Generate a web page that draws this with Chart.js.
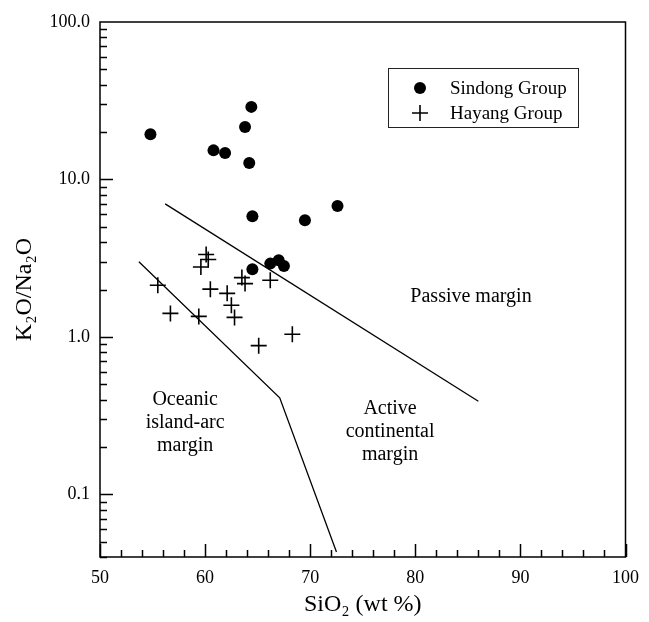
<!DOCTYPE html>
<html>
<head>
<meta charset="utf-8">
<script src="https://cdn.jsdelivr.net/npm/chart.js@4/dist/chart.umd.min.js"></script>
<style>
html, body { margin: 0; padding: 0; background: #fff; }
</style>
</head>
<body>
<canvas id="chartCanvas" width="649" height="622"></canvas>
<script>
// Sindong Group (filled circles)
const sindongSiO2 = [54.8, 64.4, 63.8, 60.8, 61.9, 64.2, 64.5, 69.5, 72.6, 64.5, 66.2, 67.0, 67.5];
const sindongRatio = [19.4, 28.9, 21.5, 15.3, 14.7, 12.7, 5.84, 5.51, 6.79, 2.69, 2.92, 3.07, 2.82];

// Hayang Group (crosses)
const hayangSiO2 = [55.5, 56.7, 59.4, 59.6, 60.1, 60.3, 60.5, 62.1, 62.5, 62.8, 63.5, 63.8, 66.2, 65.1, 68.3];
const hayangRatio = [2.13, 1.41, 1.35, 2.78, 3.34, 3.10, 2.01, 1.89, 1.59, 1.33, 2.38, 2.18, 2.29, 0.88, 1.04];

// field boundaries
const passiveLineSiO2 = [56.2, 86.0];
const passiveLineRatio = [7.0, 0.39];
const arcLineSiO2 = [53.7, 67.1, 72.5];
const arcLineRatio = [3.0, 0.41, 0.043];

// axis ticks
const xTickValues = [50, 60, 70, 80, 90, 100];
const yTickValues = [0.1, 1, 10, 100];

// field names, anchored at (SiO2, ratio)
const fieldNames = [
    { lines: ['Passive margin'], x: 85.3, y: 1.81 },
    { lines: ['Oceanic', 'island-arc', 'margin'], x: 58.1, y: 0.285 },
    { lines: ['Active', 'continental', 'margin'], x: 77.6, y: 0.248 }
];

const serif = "'Liberation Serif', 'Times New Roman', serif";
Chart.defaults.font.family = serif;
Chart.defaults.color = '#000';

function toPoints(xs, ys) {
    return xs.map((x, i) => ({ x: x, y: ys[i] }));
}

function drawCross(ctx, x, y, r) {
    ctx.beginPath();
    ctx.moveTo(x - r, y); ctx.lineTo(x + r, y);
    ctx.moveTo(x, y - r); ctx.lineTo(x, y + r);
    ctx.stroke();
}

const framePlugin = {
    id: 'frame',
    afterDatasetsDraw(chart) {
        const ctx = chart.ctx;
        const a = chart.chartArea;
        const xs = chart.scales.x;
        const ys = chart.scales.y;
        ctx.save();
        ctx.strokeStyle = '#000';
        ctx.lineWidth = 1.5;
        ctx.strokeRect(a.left, a.top, a.right - a.left, a.bottom - a.top);

        // inward ticks
        ctx.beginPath();
        for (let v = 50; v <= 100; v += 2) {
            const px = Math.round(xs.getPixelForValue(v)) + 0.5;
            const len = v % 10 === 0 ? 13 : 7;
            ctx.moveTo(px, a.bottom);
            ctx.lineTo(px, a.bottom - len);
        }
        for (let e = -2; e <= 1; e++) {
            for (let m = 1; m <= 9; m++) {
                const v = m * Math.pow(10, e);
                if (v < 0.0399 || v > 100.01) continue;
                const py = Math.round(ys.getPixelForValue(v)) + 0.5;
                const len = m === 1 ? 13 : 7;
                ctx.moveTo(a.left, py);
                ctx.lineTo(a.left + len, py);
            }
        }
        ctx.stroke();

        // field names
        ctx.fillStyle = '#000';
        ctx.font = '20px ' + serif;
        ctx.textAlign = 'center';
        ctx.textBaseline = 'middle';
        for (let f of fieldNames) {
            const cx = xs.getPixelForValue(f.x);
            const cy = ys.getPixelForValue(f.y);
            const n = f.lines.length;
            f.lines.forEach((t, i) => {
                ctx.fillText(t, cx, cy + (i - (n - 1) / 2) * 23);
            });
        }

        // legend box
        ctx.lineWidth = 1;
        ctx.strokeStyle = '#222';
        ctx.strokeRect(388.5, 68.5, 190, 59);
        ctx.beginPath();
        ctx.arc(420, 88, 6, 0, Math.PI * 2);
        ctx.fill();
        ctx.lineWidth = 1.6;
        ctx.strokeStyle = '#000';
        drawCross(ctx, 420, 113, 8);
        ctx.font = '19px ' + serif;
        ctx.textAlign = 'left';
        ctx.fillText('Sindong Group', 450, 89);
        ctx.fillText('Hayang Group', 450, 114);
        ctx.restore();
    }
};

const config = {
    type: 'scatter',
    data: {
        datasets: [
            {
                label: 'Sindong Group',
                data: toPoints(sindongSiO2, sindongRatio),
                pointStyle: 'circle',
                pointRadius: 6,
                backgroundColor: '#000',
                borderColor: '#000',
                borderWidth: 0
            },
            {
                label: 'Hayang Group',
                data: toPoints(hayangSiO2, hayangRatio),
                pointStyle: 'cross',
                pointRadius: 8,
                borderColor: '#000',
                borderWidth: 1.6
            },
            {
                label: 'passive',
                data: toPoints(passiveLineSiO2, passiveLineRatio),
                showLine: true,
                pointRadius: 0,
                borderColor: '#000',
                borderWidth: 1.3
            },
            {
                label: 'arc',
                data: toPoints(arcLineSiO2, arcLineRatio),
                showLine: true,
                pointRadius: 0,
                borderColor: '#000',
                borderWidth: 1.3
            }
        ]
    },
    options: {
        responsive: false,
        animation: false,
        layout: { padding: { top: 22, right: 17, left: 0, bottom: 0 } },
        plugins: { legend: { display: false }, tooltip: { enabled: false } },
        scales: {
            x: {
                type: 'linear',
                min: 50,
                max: 100,
                afterBuildTicks: s => { s.ticks = xTickValues.map(v => ({ value: v })); },
                ticks: { font: { size: 18 }, padding: 10, color: '#000', maxRotation: 0 },
                grid: { display: false, drawTicks: false },
                border: { display: false },
                title: { display: true, text: 'SiO₂ (wt %)', font: { size: 24 }, padding: { top: 0, bottom: 3 }, color: '#000' },
                afterFit: s => { s.height = 65; }
            },
            y: {
                type: 'logarithmic',
                min: 0.04,
                max: 100,
                afterBuildTicks: s => { s.ticks = yTickValues.map(v => ({ value: v })); },
                ticks: { font: { size: 18 }, padding: 10, color: '#000', callback: v => Number(v).toFixed(1) },
                grid: { display: false, drawTicks: false },
                border: { display: false },
                title: { display: true, text: 'K₂O/Na₂O', font: { size: 24 }, padding: { top: 10, bottom: 0 }, color: '#000' },
                afterFit: s => { s.width = 100; }
            }
        }
    },
    plugins: [framePlugin]
};

const myChart = new Chart(document.getElementById('chartCanvas'), config);
</script>
</body>
</html>
